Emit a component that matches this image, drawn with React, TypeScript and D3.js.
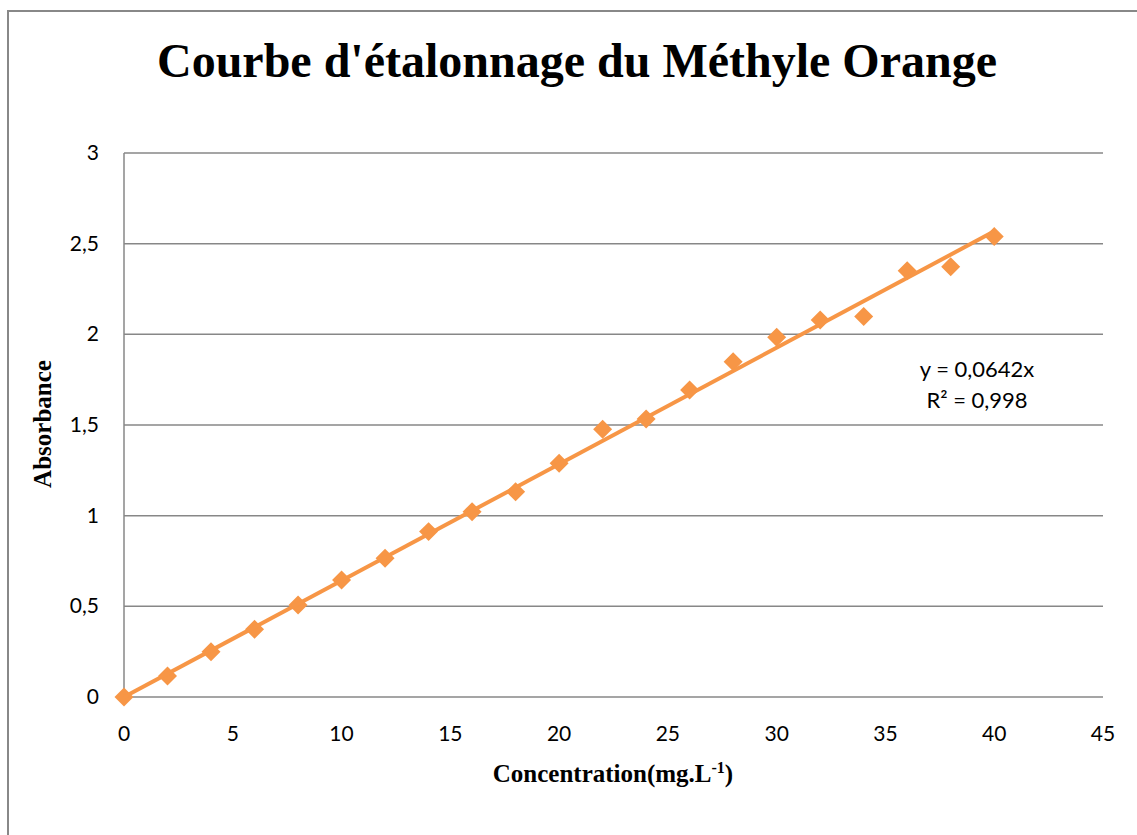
import React, { useEffect, useRef } from 'react'
import * as d3 from 'd3'

// concentrations (mg/L) and measured absorbance
const concentrations = [0, 2, 4, 6, 8, 10, 12, 14, 16, 18, 20, 22, 24, 26, 28, 30, 32, 34, 36, 38, 40]
const absorbance = [0, 0.116, 0.25, 0.373, 0.507, 0.645, 0.765, 0.912, 1.022, 1.132, 1.289, 1.476, 1.533, 1.693, 1.849, 1.984, 2.079, 2.098, 2.351, 2.373, 2.539]
const xTicks = [0, 5, 10, 15, 20, 25, 30, 35, 40, 45]
const yTicks = [0, 0.5, 1, 1.5, 2, 2.5, 3]
const trendSlope = 0.0642
const trendLabels = ['y = 0,0642x', 'R² = 0,998']

const W = 1137
const H = 835
const ORANGE = '#F79646'
const GRID = '#878787'
const SERIF = '"Liberation Serif", "Times New Roman", serif'

function drawChart(el: SVGSVGElement) {
    const svg = d3.select(el)
    svg.selectAll('*').remove()

    const x = d3.scaleLinear().domain([0, 45]).range([124, 1103])
    const y = d3.scaleLinear().domain([0, 3]).range([697, 153])
    const fmt = (v: number) => String(v).replace('.', ',')

    svg.append('rect').attr('width', W).attr('height', H).attr('fill', '#fff')

    // outer chart border (only top and left are visible)
    svg.append('path')
        .attr('d', `M8,${H} L8,11 L${W},11`)
        .attr('fill', 'none')
        .attr('stroke', '#888')
        .attr('stroke-width', 2)

    svg.append('text')
        .attr('x', 577).attr('y', 77)
        .attr('text-anchor', 'middle')
        .attr('font-family', SERIF)
        .attr('font-weight', 'bold')
        .attr('font-size', 48)
        .text("Courbe d'étalonnage du Méthyle Orange")

    // gridlines
    svg.append('g').selectAll('line')
        .data(yTicks)
        .enter().append('line')
        .attr('x1', x(0)).attr('x2', x(45))
        .attr('y1', d => y(d)).attr('y2', d => y(d))
        .attr('stroke', GRID).attr('stroke-width', 1.5)

    svg.append('line')
        .attr('x1', x(0)).attr('x2', x(0))
        .attr('y1', y(3)).attr('y2', y(0))
        .attr('stroke', GRID).attr('stroke-width', 1.5)

    const tickFont = 'Lato, "Open Sans", sans-serif'
    svg.append('g').selectAll('text')
        .data(yTicks)
        .enter().append('text')
        .attr('x', 99).attr('y', d => y(d) + 7)
        .attr('text-anchor', 'end')
        .attr('font-family', tickFont).attr('font-size', 21)
        .text(d => fmt(d))

    svg.append('g').selectAll('text')
        .data(xTicks)
        .enter().append('text')
        .attr('x', d => x(d)).attr('y', 741)
        .attr('text-anchor', 'middle')
        .attr('font-family', tickFont).attr('font-size', 21)
        .text(d => fmt(d))

    // axis titles
    const xt = svg.append('text')
        .attr('x', 613).attr('y', 782)
        .attr('text-anchor', 'middle')
        .attr('font-family', SERIF)
        .attr('font-weight', 'bold').attr('font-size', 25)
    xt.append('tspan').text('Concentration(mg.L')
    xt.append('tspan').attr('font-size', 16).attr('dy', -9).text('-1')
    xt.append('tspan').attr('dy', 9).text(')')

    svg.append('text')
        .attr('transform', 'translate(51,424) rotate(-90)')
        .attr('text-anchor', 'middle')
        .attr('font-family', SERIF)
        .attr('font-weight', 'bold').attr('font-size', 25)
        .text('Absorbance')

    // markers
    const pts = concentrations.map((c, i) => [c, absorbance[i]])
    svg.append('g').selectAll('path')
        .data(pts)
        .enter().append('path')
        .attr('d', d3.symbol(d3.symbolDiamond2, 230)())
        .attr('transform', d => `translate(${x(d[0])},${y(d[1])})`)
        .attr('fill', ORANGE)

    // linear trendline through origin
    const line = d3.line<number>().x(d => x(d)).y(d => y(d * trendSlope))
    svg.append('path')
        .attr('d', line([0, 40]))
        .attr('fill', 'none')
        .attr('stroke', ORANGE)
        .attr('stroke-width', 4)

    svg.append('g').selectAll('text')
        .data(trendLabels)
        .enter().append('text')
        .attr('x', 977).attr('y', (d, i) => 377 + i * 31)
        .attr('text-anchor', 'middle')
        .attr('font-family', tickFont).attr('font-size', 22)
        .text(d => d)
}

const App = () => {
    const ref = useRef<SVGSVGElement>(null)
    useEffect(() => {
        document.body.style.margin = '0'
        if (ref.current) drawChart(ref.current)
    }, [])
    return <svg ref={ref} width={W} height={H} style={{ display: 'block' }} />
}

export default App
